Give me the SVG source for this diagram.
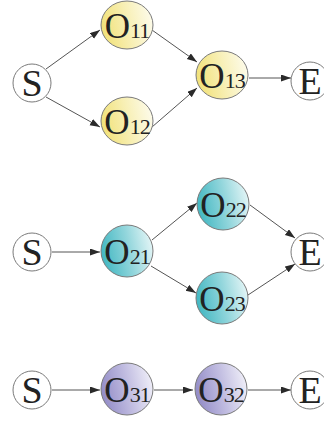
<svg xmlns="http://www.w3.org/2000/svg" width="324" height="421" viewBox="0 0 324 421">
<defs>
<linearGradient id="gy" x1="0" y1="0.6" x2="1" y2="0.4"><stop offset="0" stop-color="#f1e177"/><stop offset="0.55" stop-color="#f8f0b8"/><stop offset="1" stop-color="#fdfbea"/></linearGradient>
<linearGradient id="gc" x1="0" y1="0.6" x2="1" y2="0.4"><stop offset="0" stop-color="#3fb6c1"/><stop offset="0.55" stop-color="#93d6dc"/><stop offset="1" stop-color="#e3f5f6"/></linearGradient>
<linearGradient id="gp" x1="0" y1="0.6" x2="1" y2="0.4"><stop offset="0" stop-color="#918ac6"/><stop offset="0.55" stop-color="#c3bfe2"/><stop offset="1" stop-color="#efeef8"/></linearGradient>
<marker id="ah" markerUnits="userSpaceOnUse" markerWidth="11" markerHeight="8" refX="10" refY="3.5" orient="auto"><path d="M0,0 L10,3.5 L0,7 z" fill="#2a2a2a"/></marker>
</defs>
<style>
.n{stroke:#7a7a7a;stroke-width:1}
.w{fill:#fff}
.y{fill:url(#gy)}
.c{fill:url(#gc)}
.p{fill:url(#gp)}
text{font-family:"Liberation Serif","Times New Roman",serif;fill:#222;text-anchor:middle}
.big{font-size:38px}
.o{font-size:35px}
.sub{font-size:22px;letter-spacing:-1px}
.e line{stroke:#555;stroke-width:1;marker-end:url(#ah)}
</style>
<g id="connectors" class="e">
<line x1="46" y1="69" x2="100" y2="30"/>
<line x1="46" y1="97" x2="100" y2="127"/>
<line x1="152" y1="30" x2="197" y2="62"/>
<line x1="152" y1="127" x2="197" y2="88"/>
<line x1="249" y1="78" x2="291" y2="78"/>
<line x1="52" y1="252" x2="100" y2="252"/>
<line x1="152" y1="240" x2="197" y2="203"/>
<line x1="151" y1="266" x2="196" y2="293"/>
<line x1="250" y1="205" x2="295" y2="238"/>
<line x1="248" y1="295" x2="295" y2="264"/>
<line x1="52" y1="390" x2="100" y2="390"/>
<line x1="154" y1="390" x2="193" y2="390"/>
<line x1="248" y1="390" x2="291" y2="390"/>
</g>
<g id="S1"><circle class="n w" cx="32" cy="83" r="19"/><text class="big" x="32" y="96">S</text></g>
<g id="O11"><ellipse class="n y" cx="127" cy="25" rx="26" ry="24"/><text x="127" y="37.5"><tspan class="o">O</tspan><tspan class="sub">11</tspan></text></g>
<g id="O12"><ellipse class="n y" cx="127" cy="121" rx="26" ry="24"/><text x="127" y="133.5"><tspan class="o">O</tspan><tspan class="sub">12</tspan></text></g>
<g id="O13"><ellipse class="n y" cx="222" cy="75" rx="26" ry="24"/><text x="222" y="87.5"><tspan class="o">O</tspan><tspan class="sub">13</tspan></text></g>
<g id="E1"><circle class="n w" cx="310" cy="81" r="19"/><text class="big" x="310" y="94">E</text></g>
<g id="S2"><circle class="n w" cx="32" cy="252" r="19"/><text class="big" x="32" y="265">S</text></g>
<g id="O21"><circle class="n c" cx="127" cy="251" r="26"/><text x="127" y="263.5"><tspan class="o">O</tspan><tspan class="sub">21</tspan></text></g>
<g id="O22"><circle class="n c" cx="223" cy="204" r="26"/><text x="223" y="216.5"><tspan class="o">O</tspan><tspan class="sub">22</tspan></text></g>
<g id="O23"><circle class="n c" cx="222" cy="298" r="26"/><text x="222" y="310.5"><tspan class="o">O</tspan><tspan class="sub">23</tspan></text></g>
<g id="E2"><circle class="n w" cx="310" cy="252" r="19"/><text class="big" x="310" y="265">E</text></g>
<g id="S3"><circle class="n w" cx="32" cy="390" r="19"/><text class="big" x="32" y="403">S</text></g>
<g id="O31"><circle class="n p" cx="127" cy="389" r="26"/><text x="127" y="401.5"><tspan class="o">O</tspan><tspan class="sub">31</tspan></text></g>
<g id="O32"><circle class="n p" cx="221" cy="389" r="26"/><text x="221" y="401.5"><tspan class="o">O</tspan><tspan class="sub">32</tspan></text></g>
<g id="E3"><circle class="n w" cx="310" cy="390" r="19"/><text class="big" x="310" y="403">E</text></g>
</svg>
